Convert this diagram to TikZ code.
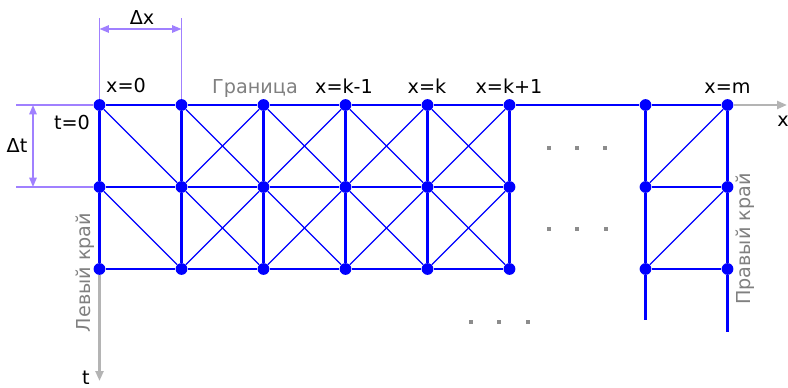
\documentclass[tikz,border=0pt]{standalone}
\usepackage{fontspec}
\setmainfont{DejaVu Sans}
\usetikzlibrary{arrows.meta}
\definecolor{gridblue}{RGB}{0,0,255}
\definecolor{dimpurple}{RGB}{160,128,255}
\definecolor{axisgray}{RGB}{180,180,180}
\definecolor{labelgray}{RGB}{128,128,128}
\definecolor{dotsgray}{RGB}{140,140,140}
\begin{document}
\begin{tikzpicture}[x=0.75pt,y=-0.75pt,
  font=\fontsize{14.4}{17}\selectfont,
  gpt/.style={circle,fill=gridblue,inner sep=0pt,minimum size=8.8pt},
  ortho/.style={draw=gridblue,line width=1.7pt},
  diag/.style={draw=gridblue,line width=1pt},
  dimline/.style={draw=dimpurple,line width=1.2pt},
  dimarrow/.style={dimline,{Triangle[length=7pt,width=5.5pt]}-{Triangle[length=7pt,width=5.5pt]}},
  axisline/.style={draw=axisgray,line width=1.7pt,-{Triangle[length=7.5pt,width=6pt]}},
  lbl/.style={anchor=base,inner sep=0pt},
  glbl/.style={lbl,text=labelgray},
  ell/.style={rectangle,fill=dotsgray,minimum size=3.2pt,inner sep=0pt}
]
\useasboundingbox (0,0) rectangle (788,388);
\clip (0,0) rectangle (788,388);

% grid points
\foreach \i/\x in {0/99.5,1/181.5,2/263.5,3/345.5,4/427.5,5/509.5,6/645.5,7/727.5}
  \foreach \j/\y in {0/105,1/187,2/269}
    \node[gpt] (p\i\j) at (\x,\y) {};

% free ends
\coordinate (e6) at (645.5,320);
\coordinate (e7) at (727.5,332);
\coordinate (xend) at (787,105);
\coordinate (tend) at (99.5,381);

% axes
\draw[axisline] (p70) -- (xend);
\draw[axisline] (p02) -- (tend);

% horizontal lines
\draw[ortho] (p00)--(p10)--(p20)--(p30)--(p40)--(p50)--(p60)--(p70);
\foreach \j in {1,2}{
  \draw[ortho] (p0\j)--(p1\j)--(p2\j)--(p3\j)--(p4\j)--(p5\j);
  \draw[ortho] (p6\j)--(p7\j);
}
% vertical lines
\foreach \i in {0,...,5}
  \draw[ortho] (p\i0)--(p\i1)--(p\i2);
\draw[ortho] (p60)--(p61)--(p62)--(e6);
\draw[ortho] (p70)--(p71)--(p72)--(e7);

% diagonals
\draw[diag] (p00)--(p11);
\draw[diag] (p01)--(p12);
\foreach \i/\n in {1/2,2/3,3/4,4/5}{
  \draw[diag] (p\i0)--(p\n1);
  \draw[diag] (p\n0)--(p\i1);
  \draw[diag] (p\i1)--(p\n2);
  \draw[diag] (p\n1)--(p\i2);
}
\draw[diag] (p61)--(p70);
\draw[diag] (p62)--(p71);

% dimension dx
\coordinate (dxt1) at (99.5,18);
\coordinate (dxt2) at (181.5,18);
\coordinate (dxa) at (99.5,29);
\coordinate (dxb) at (181.5,29);
\draw[dimline] (dxt1)--(p00);
\draw[dimline] (dxt2)--(p10);
\draw[dimarrow] (dxa)--(dxb);
\node[lbl] (ldx) at (142,25) {Δx};

% dimension dt
\coordinate (dtt1) at (16,105);
\coordinate (dtt2) at (16,187);
\coordinate (dta) at (33,105);
\coordinate (dtb) at (33,187);
\draw[dimline] (dtt1)--(p00);
\draw[dimline] (dtt2)--(p01);
\draw[dimarrow] (dta)--(dtb);
\node[lbl] (ldt) at (17,153) {Δt};

% labels
\node[lbl] (lx0) at (126,93) {x=0};
\node[glbl] (lgr) at (255,94) {Граница};
\node[lbl] (lxk1) at (344,94) {x=k-1};
\node[lbl] (lxk) at (427,94) {x=k};
\node[lbl] (lxk2) at (509,94) {x=k+1};
\node[lbl] (lxm) at (727.5,94) {x=m};
\node[lbl] (lt0) at (72,130) {t=0};
\node[lbl,anchor=base west] (lxax) at (777,127) {x};
\node[lbl] (ltax) at (86,384) {t};
\node[glbl,rotate=90] (lleft) at (90,272.5) {Левый край};
\node[glbl,rotate=90] (lright) at (750,239) {Правый край};

% ellipsis dots
\foreach \x in {549,577,605} \node[ell] (da\x) at (\x,148) {};
\foreach \x in {549,577,606} \node[ell] (db\x) at (\x,229) {};
\foreach \x in {471,499,528} \node[ell] (dc\x) at (\x,322) {};
\end{tikzpicture}
\end{document}
